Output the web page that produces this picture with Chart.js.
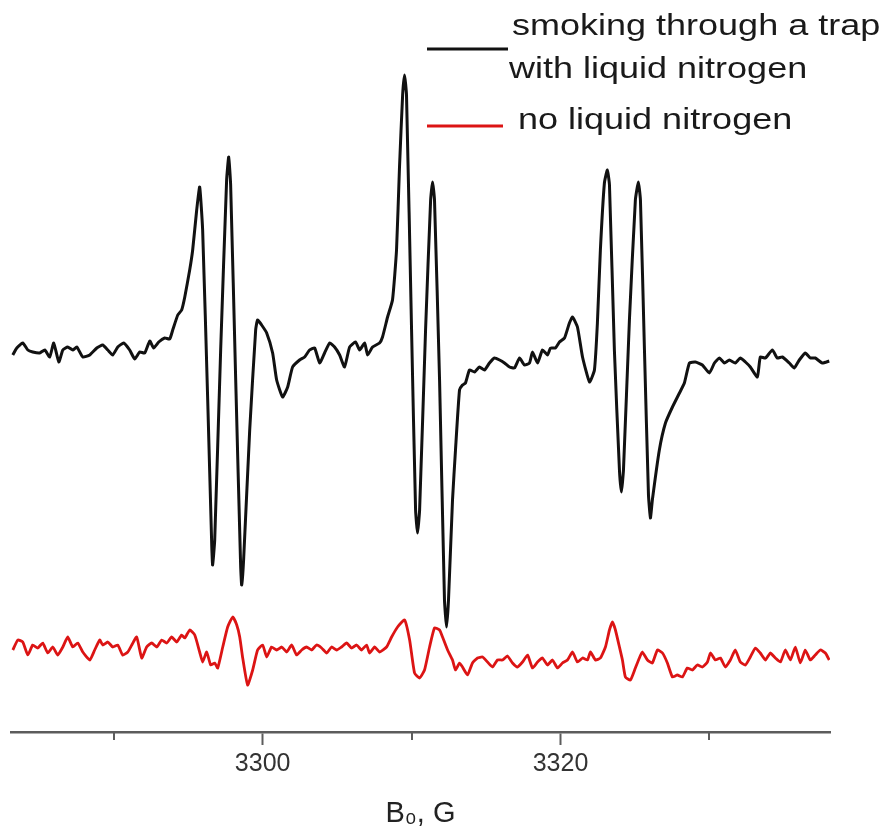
<!DOCTYPE html>
<html>
<head>
<meta charset="utf-8">
<script src="https://cdn.jsdelivr.net/npm/chart.js@4.4.1/dist/chart.umd.min.js"></script>
<style>
  html, body { margin: 0; padding: 0; background: #fff; }
  #wrap { width: 886px; height: 837px; position: relative; }
</style>
</head>
<body>
<div id="wrap"><canvas id="eprChart"></canvas></div>
<script>
// EPR spectra, field in G, signal in arbitrary units
const blackTrace = [
  [3283.22,377],[3283.49,384],[3283.89,389],[3284.23,382],[3284.56,380],[3285.03,379],[3285.37,382],[3285.70,375],[3285.97,389],[3286.31,370],
  [3286.58,382],[3286.91,385],[3287.25,382],[3287.52,385],[3287.92,375],[3288.39,377],[3288.86,384],[3289.26,387],[3289.60,382],[3289.93,377],
  [3290.27,385],[3290.67,389],[3291.07,382],[3291.41,373],[3291.74,380],[3292.08,379],[3292.42,391],[3292.68,384],[3293.02,390],[3293.42,394],
  [3293.76,393],[3293.96,402],[3294.30,417],[3294.56,422],[3294.77,435],[3295.10,462],[3295.30,482],[3295.57,522],[3295.77,545],[3295.97,502],
  [3296.31,332],[3296.58,187],[3296.64,167],[3296.78,192],[3297.18,382],[3297.58,552],[3297.72,575],[3297.85,547],[3298.19,352],[3298.52,167],
  [3298.59,147],[3298.72,172],[3299.13,302],[3299.53,402],[3299.66,412],[3299.93,407],[3300.27,399],[3300.67,379],[3300.94,352],[3301.34,335],
  [3301.68,345],[3302.01,365],[3302.48,372],[3302.82,375],[3303.15,382],[3303.49,384],[3303.83,369],[3304.16,379],[3304.50,389],[3304.83,385],
  [3305.17,377],[3305.50,365],[3305.84,385],[3306.24,390],[3306.51,382],[3306.85,389],[3307.05,377],[3307.38,385],[3307.85,389],[3308.05,395],
  [3308.39,415],[3308.72,432],[3308.99,482],[3309.19,565],[3309.40,637],[3309.53,657],[3309.66,637],[3310.00,402],[3310.27,222],[3310.40,199],
  [3310.54,222],[3310.94,402],[3311.28,532],[3311.41,550],[3311.54,532],[3311.88,352],[3312.21,132],[3312.35,105],[3312.48,132],[3312.75,232],
  [3312.95,282],[3313.22,342],[3313.42,347],[3313.62,349],[3313.89,362],[3314.23,360],[3314.56,365],[3314.90,362],[3315.23,369],[3315.57,374],
  [3315.91,372],[3316.24,369],[3316.58,365],[3316.91,364],[3317.25,374],[3317.58,367],[3317.92,369],[3318.12,380],[3318.46,369],[3318.79,382],
  [3319.13,377],[3319.33,384],[3319.66,384],[3319.93,390],[3320.27,394],[3320.60,409],[3320.81,415],[3321.14,405],[3321.48,375],[3321.95,350],
  [3322.28,362],[3322.48,409],[3322.68,482],[3322.95,549],[3323.15,562],[3323.29,547],[3323.62,382],[3323.96,262],[3324.09,240],[3324.23,262],
  [3324.63,412],[3325.03,532],[3325.23,550],[3325.37,532],[3325.64,382],[3325.91,237],[3326.04,214],[3326.17,232],[3326.64,282],[3327.05,309],
  [3327.52,325],[3327.99,339],[3328.32,349],[3328.66,369],[3329.06,370],[3329.53,367],[3330.00,359],[3330.34,369],[3330.67,374],[3331.01,369],
  [3331.34,372],[3331.74,369],[3332.08,374],[3332.42,370],[3332.75,365],[3333.22,355],[3333.42,375],[3333.76,374],[3334.23,382],[3334.56,374],
  [3334.90,375],[3335.37,369],[3335.70,364],[3336.04,372],[3336.44,379],[3336.78,374],[3337.11,374],[3337.58,369],[3338.05,371]
];

const redTrace = [
  [3283.22,82],[3283.56,92],[3283.89,90],[3284.23,77],[3284.56,87],[3284.90,84],[3285.23,89],[3285.57,79],[3285.91,85],[3286.24,77],
  [3286.58,85],[3286.91,95],[3287.25,85],[3287.58,89],[3287.92,80],[3288.39,72],[3288.72,82],[3289.06,92],[3289.26,87],[3289.60,90],
  [3289.93,85],[3290.27,87],[3290.60,77],[3290.94,80],[3291.21,87],[3291.54,95],[3291.88,74],[3292.21,85],[3292.55,89],[3292.89,85],
  [3293.22,92],[3293.56,89],[3293.89,95],[3294.23,90],[3294.56,97],[3294.77,94],[3295.10,102],[3295.44,97],[3295.77,80],[3295.97,70],
  [3296.24,80],[3296.51,67],[3296.78,69],[3296.98,64],[3297.32,85],[3297.65,105],[3297.99,115],[3298.26,107],[3298.46,95],[3298.66,74],
  [3298.99,47],[3299.33,62],[3299.66,82],[3300.00,87],[3300.27,75],[3300.60,85],[3300.94,82],[3301.28,85],[3301.61,80],[3301.95,87],
  [3302.28,77],[3302.62,82],[3302.95,85],[3303.29,82],[3303.62,87],[3303.96,84],[3304.30,79],[3304.63,85],[3304.97,82],[3305.30,85],
  [3305.64,89],[3305.97,84],[3306.31,87],[3306.64,82],[3306.98,87],[3307.18,79],[3307.52,85],[3307.85,80],[3308.32,85],[3308.66,95],
  [3309.06,105],[3309.53,112],[3309.87,92],[3310.20,59],[3310.54,54],[3310.87,62],[3311.21,85],[3311.54,104],[3311.88,102],[3312.08,95],
  [3312.42,82],[3312.75,72],[3312.95,62],[3313.22,69],[3313.42,65],[3313.76,57],[3314.09,69],[3314.43,74],[3314.77,75],[3315.10,70],
  [3315.44,65],[3315.77,72],[3316.11,72],[3316.44,76],[3316.78,69],[3317.11,65],[3317.45,70],[3317.79,77],[3318.12,64],[3318.46,70],
  [3318.79,74],[3319.13,67],[3319.46,72],[3319.80,64],[3320.13,69],[3320.47,72],[3320.81,80],[3321.14,70],[3321.48,74],[3321.81,72],
  [3322.01,80],[3322.35,72],[3322.68,74],[3323.02,85],[3323.29,102],[3323.49,110],[3323.69,102],[3323.96,85],[3324.16,72],[3324.36,55],
  [3324.70,52],[3325.03,64],[3325.30,74],[3325.50,80],[3325.84,72],[3326.17,69],[3326.51,82],[3326.85,79],[3327.18,69],[3327.52,55],
  [3327.85,57],[3328.19,55],[3328.52,64],[3328.86,62],[3329.19,67],[3329.53,65],[3329.87,70],[3330.07,79],[3330.40,72],[3330.74,74],
  [3331.07,65],[3331.41,72],[3331.74,82],[3332.08,70],[3332.42,67],[3332.75,75],[3333.09,84],[3333.42,79],[3333.76,72],[3334.09,79],
  [3334.43,74],[3334.77,70],[3335.10,82],[3335.44,72],[3335.77,85],[3336.11,69],[3336.44,82],[3336.78,72],[3337.11,77],[3337.45,82],
  [3337.79,79],[3338.05,72]
];

const labeledTicks = [3300, 3320];
const minorTicks = [3290, 3310, 3330];
const legendBlackLines = ['smoking through a trap', 'with liquid nitrogen'];
const legendRedLines = ['no liquid nitrogen'];

const axisGray = '#5c5c5c';
const redColor = '#dc1414';

const toPoints = arr => arr.map(p => ({ x: p[0], y: p[1] }));

// short ticks at 3290/3310/3330 + the hand-placed legend
const extrasPlugin = {
  id: 'extras',
  afterDraw(chart) {
    const ctx = chart.ctx;
    const xs = chart.scales.x;
    const bottom = chart.chartArea.bottom;
    ctx.save();
    ctx.strokeStyle = axisGray;
    ctx.lineWidth = 2;
    minorTicks.forEach(v => {
      const px = Math.round(xs.getPixelForValue(v));
      ctx.beginPath();
      ctx.moveTo(px, bottom);
      ctx.lineTo(px, bottom + 8);
      ctx.stroke();
    });

    // legend
    ctx.lineWidth = 3;
    ctx.strokeStyle = '#111';
    ctx.beginPath(); ctx.moveTo(427, 49); ctx.lineTo(508, 49); ctx.stroke();
    ctx.strokeStyle = redColor;
    ctx.beginPath(); ctx.moveTo(427, 126); ctx.lineTo(503, 126); ctx.stroke();

    ctx.fillStyle = '#1a1a1a';
    ctx.font = '30px "Liberation Sans", Arial, sans-serif';
    ctx.textBaseline = 'alphabetic';
    const drawStretched = (txt, x, y) => {
      ctx.save();
      ctx.translate(x, y);
      ctx.scale(1.2, 1);
      ctx.fillText(txt, 0, 0);
      ctx.restore();
    };
    drawStretched(legendBlackLines[0], 512, 35);
    drawStretched(legendBlackLines[1], 509, 78);
    drawStretched(legendRedLines[0], 518, 129);
    ctx.restore();
  }
};

const ctx = document.getElementById('eprChart').getContext('2d');
const eprChart = new Chart(ctx, {
  type: 'line',
  data: {
    datasets: [{
      label: legendBlackLines.join(' '),
      data: toPoints(blackTrace),
      borderColor: '#111',
      borderWidth: 3,
      pointRadius: 0,
      tension: 0.15
    }, {
      label: legendRedLines[0],
      data: toPoints(redTrace),
      borderColor: redColor,
      borderWidth: 2.8,
      pointRadius: 0,
      tension: 0.15
    }]
  },
  options: {
    responsive: true,
    maintainAspectRatio: false,
    animation: false,
    layout: { padding: { left: 11, right: 56, top: 0, bottom: 0 } },
    plugins: {
      legend: { display: false },
      tooltip: { enabled: false }
    },
    scales: {
      x: {
        type: 'linear',
        min: 3283.1,
        max: 3338.1,
        afterFit(scale) { scale.height = 105; },
        border: { display: true, color: axisGray, width: 2.5 },
        grid: {
          drawOnChartArea: false,
          drawTicks: true,
          tickLength: 13,
          tickWidth: 2,
          tickColor: c => labeledTicks.includes(c.tick && c.tick.value) ? axisGray : 'rgba(0,0,0,0)'
        },
        ticks: {
          stepSize: 10,
          includeBounds: false,
          autoSkip: false,
          maxRotation: 0,
          padding: 4,
          color: '#333',
          font: { family: '"Liberation Sans", Arial, sans-serif', size: 25 },
          callback: v => labeledTicks.includes(v) ? String(v) : ''
        },
        title: {
          display: true,
          text: 'B\u2080, G',
          color: '#222',
          font: { family: '"Liberation Sans", Arial, sans-serif', size: 29 },
          padding: { top: 0, bottom: 6 }
        }
      },
      y: {
        display: false,
        min: 0,
        max: 732
      }
    }
  },
  plugins: [extrasPlugin]
});
</script>
</body>
</html>
